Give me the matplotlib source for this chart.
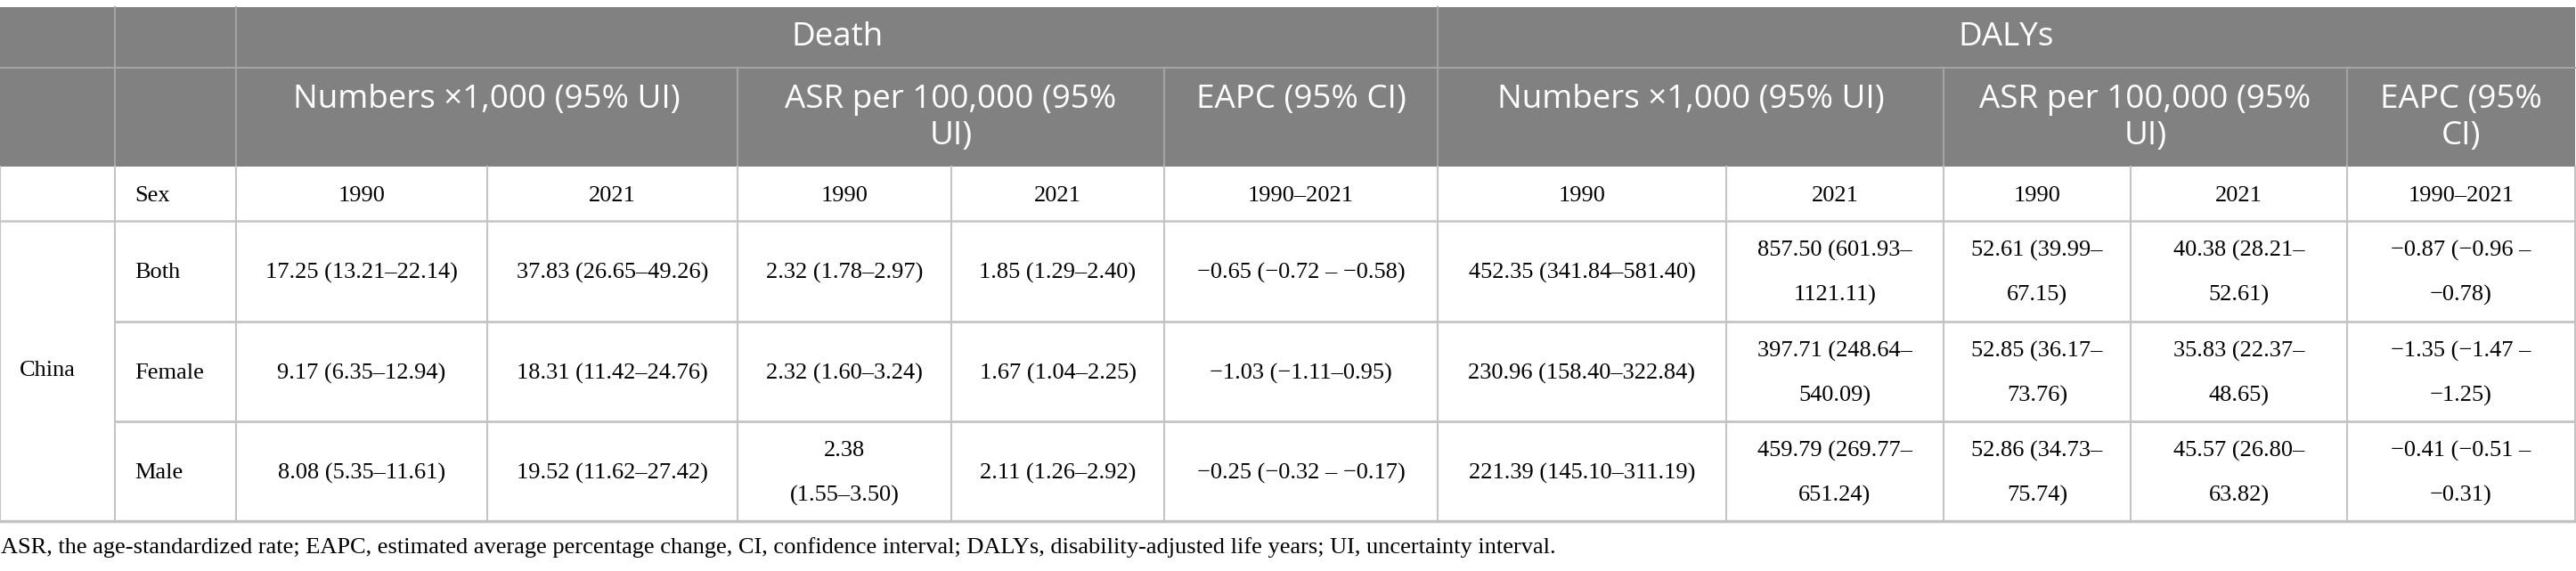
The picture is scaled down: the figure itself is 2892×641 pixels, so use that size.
import matplotlib
matplotlib.use("Agg")
import matplotlib.pyplot as plt
from matplotlib.patches import Rectangle

# table content
measures = ["Death", "DALYs"]
sub_headers = ["Numbers ×1,000 (95% UI)", "ASR per 100,000 (95%\nUI)", "EAPC (95% CI)",
               "Numbers ×1,000 (95% UI)", "ASR per 100,000 (95%\nUI)", "EAPC (95%\nCI)"]
year_labels = ["1990", "2021", "1990", "2021", "1990–2021",
               "1990", "2021", "1990", "2021", "1990–2021"]
location = "China"
sexes = ["Both", "Female", "Male"]

death_num_1990 = ["17.25 (13.21–22.14)", "9.17 (6.35–12.94)", "8.08 (5.35–11.61)"]
death_num_2021 = ["37.83 (26.65–49.26)", "18.31 (11.42–24.76)", "19.52 (11.62–27.42)"]
death_asr_1990 = ["2.32 (1.78–2.97)", "2.32 (1.60–3.24)", "2.38\n(1.55–3.50)"]
death_asr_2021 = ["1.85 (1.29–2.40)", "1.67 (1.04–2.25)", "2.11 (1.26–2.92)"]
death_eapc = ["−0.65 (−0.72 – −0.58)", "−1.03 (−1.11–0.95)", "−0.25 (−0.32 – −0.17)"]
daly_num_1990 = ["452.35 (341.84–581.40)", "230.96 (158.40–322.84)", "221.39 (145.10–311.19)"]
daly_num_2021 = ["857.50 (601.93–\n1121.11)", "397.71 (248.64–\n540.09)", "459.79 (269.77–\n651.24)"]
daly_asr_1990 = ["52.61 (39.99–\n67.15)", "52.85 (36.17–\n73.76)", "52.86 (34.73–\n75.74)"]
daly_asr_2021 = ["40.38 (28.21–\n52.61)", "35.83 (22.37–\n48.65)", "45.57 (26.80–\n63.82)"]
daly_eapc = ["−0.87 (−0.96 –\n−0.78)", "−1.35 (−1.47 –\n−1.25)", "−0.41 (−0.51 –\n−0.31)"]

footnote = ("ASR, the age-standardized rate; EAPC, estimated average percentage change, "
            "CI, confidence interval; DALYs, disability-adjusted life years; UI, uncertainty interval.")

columns = [death_num_1990, death_num_2021, death_asr_1990, death_asr_2021, death_eapc,
           daly_num_1990, daly_num_2021, daly_asr_1990, daly_asr_2021, daly_eapc]

# layout (pixels)
W, H = 2892, 641
xs = [0, 129, 265, 547, 828, 1068, 1307, 1614, 1938, 2182, 2392, 2635, 2891]
ys = [8, 76, 187, 248, 361, 473, 585]
head_bg = "#808180"
head_line = "#a3a4a3"
grid = "#c4c4c4"
serif = "Liberation Serif"
sans = "Open Sans"
body_fs = 19
head_fs = 26.5
line_gap = 50

fig = plt.figure(figsize=(W / 100, H / 100), dpi=100)
ax = fig.add_axes([0, 0, 1, 1])
ax.set_xlim(0, W)
ax.set_ylim(H, 0)
ax.axis("off")

# header background
ax.add_patch(Rectangle((xs[0], ys[0]), xs[-1] - xs[0], ys[2] - ys[0], color=head_bg, lw=0))

# header lines
ax.plot([xs[0], xs[-1]], [ys[1], ys[1]], color=head_line, lw=1.5)
for x in [xs[1], xs[2], xs[7]]:
    ax.plot([x, x], [ys[0], ys[1]], color=head_line, lw=1.5)
for x in [xs[1], xs[2], xs[4], xs[6], xs[7], xs[9], xs[11]]:
    ax.plot([x, x], [ys[1], ys[2]], color=head_line, lw=1.5)

# body lines
ax.plot([xs[0], xs[-1]], [ys[3], ys[3]], color=grid, lw=1.8)
for y in ys[4:6]:
    ax.plot([xs[1], xs[-1]], [y, y], color=grid, lw=2.0)
ax.plot([xs[0], xs[-1]], [ys[6], ys[6]], color=grid, lw=2.5)
for x in xs:
    ax.plot([x, x], [ys[2], ys[6]], color=grid, lw=1.5)

# header text
for name, (a, b) in zip(measures, [(xs[2], xs[7]), (xs[7], xs[-1])]):
    ax.text((a + b) / 2, (ys[0] + ys[1]) / 2, name, ha="center", va="center",
            color="white", fontsize=head_fs, family=sans)
spans = [(2, 4), (4, 6), (6, 7), (7, 9), (9, 11), (11, 12)]
for label, (i, j) in zip(sub_headers, spans):
    for k, line in enumerate(label.split("\n")):
        ax.text((xs[i] + xs[j]) / 2, 112 + 41 * k, line, ha="center", va="center",
                color="white", fontsize=head_fs, family=sans)

# sex / year row
ym = (ys[2] + ys[3]) / 2 + 2
ax.text(xs[1] + 22, ym, "Sex", ha="left", va="center", fontsize=body_fs, family=serif)
for c, label in enumerate(year_labels):
    ax.text((xs[c + 2] + xs[c + 3]) / 2, ym, label, ha="center", va="center",
            fontsize=body_fs, family=serif)

# body
ax.text(xs[0] + 22, (ys[3] + ys[6]) / 2, location, ha="left", va="center",
        fontsize=body_fs, family=serif)
for r, sex in enumerate(sexes):
    yc = (ys[r + 3] + ys[r + 4]) / 2 + 2
    ax.text(xs[1] + 22, yc, sex, ha="left", va="center", fontsize=body_fs, family=serif)
    for c, col in enumerate(columns):
        lines = col[r].split("\n")
        off = (len(lines) - 1) * line_gap / 2
        for k, line in enumerate(lines):
            ax.text((xs[c + 2] + xs[c + 3]) / 2, yc - off + line_gap * k, line, ha="center",
                    va="center", fontsize=body_fs, family=serif)

ax.text(1, 615, footnote, ha="left", va="center", fontsize=body_fs, family=serif)

fig.savefig("out.png", dpi=100)
